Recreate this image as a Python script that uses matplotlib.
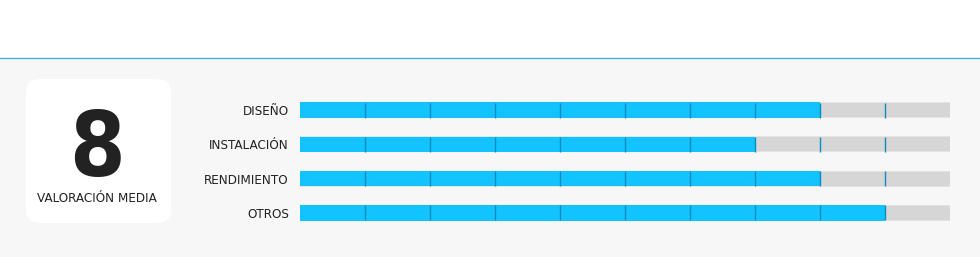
import matplotlib
matplotlib.use("Agg")
import matplotlib.pyplot as plt
from matplotlib.patches import FancyBboxPatch, Rectangle

# data
categories = ["DISEÑO", "INSTALACIÓN", "RENDIMIENTO", "OTROS"]
scores = [8, 7, 8, 9]
max_score = 10
average = "8"
average_label = "VALORACIÓN MEDIA"

W, H = 980, 257
fig = plt.figure(figsize=(W / 100, H / 100), dpi=100)
fig.patch.set_facecolor("white")

# background in pixel coords
bg = fig.add_axes([0, 0, 1, 1])
bg.set_xlim(0, W)
bg.set_ylim(H, 0)
bg.axis("off")
bg.add_patch(Rectangle((0, 57), W, H - 57, facecolor="#f7f7f7", edgecolor="none"))
bg.plot([0, W], [57.5, 57.5], color="#3fb0e2", lw=0.9)
bg.add_patch(FancyBboxPatch((36, 89), 125, 124, boxstyle="round,pad=10,rounding_size=14",
                            facecolor="white", edgecolor="none"))
bg.text(97, 176, average, ha="center", va="baseline", fontsize=64, fontweight="bold",
        fontstretch="condensed", family="DejaVu Sans", color="#222222")
bg.text(97, 199, average_label, ha="center", va="center", fontsize=9.6,
        fontstretch="condensed", family="DejaVu Sans", color="#222222")

# bars
ax = fig.add_axes([300 / W, 27 / H, 650 / W, 137 / H])
ax.set_facecolor("none")
ypos = list(range(len(categories)))
ax.barh(ypos, [max_score] * len(ypos), height=0.47, color="#e4e4e4")
ax.barh(ypos, [max_score] * len(ypos), height=0.41, color="#d6d6d6")
ax.barh(ypos, scores, height=0.45, color="#12c3ff")
for y, s in zip(ypos, scores):
    ax.vlines(range(1, max_score), y - 0.22, y + 0.22, color="#0a8cbf", lw=1)
ax.set_xlim(0, max_score)
ax.set_ylim(len(categories) - 0.5, -0.5)
ax.set_yticks(ypos)
ax.set_yticklabels(categories, fontsize=9.6, color="#222222",
                   fontstretch="condensed", family="DejaVu Sans")
ax.tick_params(axis="y", length=0, pad=8)
ax.set_xticks([])
for sp in ax.spines.values():
    sp.set_visible(False)

fig.savefig("out.png", dpi=100, facecolor=fig.get_facecolor())
